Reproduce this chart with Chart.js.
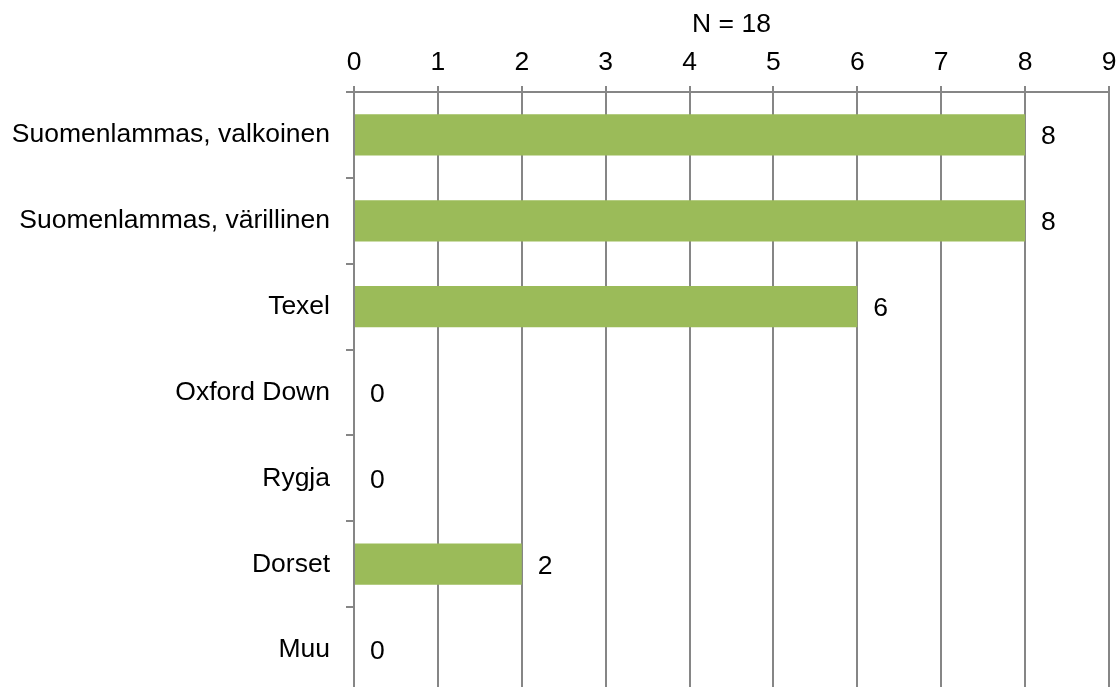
<!DOCTYPE html>
<html>
<head>
    <meta charset="utf-8">
    <title>Rodut</title>
    <style>
        html, body { margin: 0; padding: 0; overflow: hidden; background: #fff; }
        canvas { display: block; }
    </style>
</head>
<body>
<canvas id="breedChart" width="1119" height="693"></canvas>

<script src="https://cdn.jsdelivr.net/npm/chart.js"></script>
<script>
    const breeds = ['Suomenlammas, valkoinen', 'Suomenlammas, värillinen', 'Texel', 'Oxford Down', 'Rygja', 'Dorset', 'Muu'];
    const counts = [8, 8, 6, 0, 0, 2, 0];
    const titleText = 'N = 18';

    const gridGray = '#868686';
    const family = '"Liberation Sans", Arial, sans-serif';
    const font = {family: family, size: 26.5};

    // value labels to the right of each bar
    const valueLabels = {
        id: 'valueLabels',
        afterDatasetsDraw(chart) {
            const ctx = chart.ctx;
            const meta = chart.getDatasetMeta(0);
            ctx.save();
            ctx.font = '26.5px ' + family;
            ctx.fillStyle = '#000';
            ctx.textAlign = 'left';
            ctx.textBaseline = 'middle';
            meta.data.forEach((bar, i) => {
                ctx.fillText(String(counts[i]), bar.x + 16, bar.y + 2);
            });
            ctx.restore();
        }
    };

    new Chart(document.getElementById('breedChart'), {
        type: 'bar',
        data: {
            labels: breeds,
            datasets: [{
                data: counts,
                backgroundColor: '#9BBB59',
                borderWidth: 0,
                barPercentage: 0.48,
                categoryPercentage: 1
            }]
        },
        options: {
            indexAxis: 'y',
            responsive: false,
            animation: false,
            layout: {padding: {left: 0, right: 10, top: 0, bottom: 0}},
            plugins: {
                legend: {display: false},
                tooltip: {enabled: false}
            },
            scales: {
                x: {
                    position: 'top',
                    min: 0,
                    max: 9,
                    title: {
                        display: true,
                        text: titleText,
                        color: '#000',
                        font: font,
                        padding: {top: 9, bottom: 0}
                    },
                    ticks: {stepSize: 1, color: '#000', font: font, padding: 7},
                    grid: {color: gridGray, lineWidth: 2, tickLength: 6},
                    border: {color: gridGray, width: 2},
                    afterFit(scale) {
                        scale.height = 92;
                        scale.paddingLeft = 0;
                        scale.paddingRight = 0;
                    }
                },
                y: {
                    offset: true,
                    ticks: {color: '#000', font: font, padding: 16},
                    grid: {offset: true, drawOnChartArea: false, color: gridGray, lineWidth: 2, tickLength: 8},
                    border: {color: gridGray, width: 2},
                    afterFit(scale) {
                        scale.width = 354;
                        scale.paddingTop = 0;
                        scale.paddingBottom = 0;
                    }
                }
            }
        },
        plugins: [valueLabels]
    });
</script>
</body>
</html>
